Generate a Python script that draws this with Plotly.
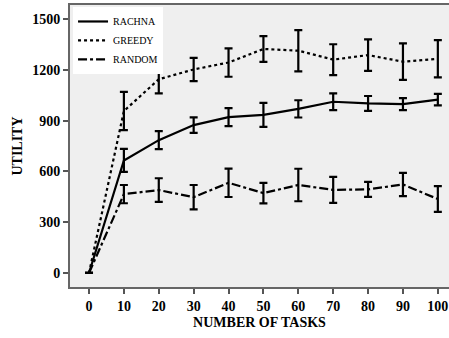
import plotly.graph_objects as go

tasks = [0, 10, 20, 30, 40, 50, 60, 70, 80, 90, 100]
utility_ticks = [0, 300, 600, 900, 1200, 1500]

rachna = [0, 665, 785, 874, 921, 935, 970, 1012, 1002, 998, 1025]
rachna_err = [0, 68, 53, 46, 53, 71, 51, 49, 44, 35, 34]

greedy = [0, 957, 1145, 1203, 1244, 1324, 1314, 1261, 1288, 1249, 1266]
greedy_err = [0, 113, 84, 69, 84, 76, 122, 91, 93, 108, 110]

random_ = [0, 466, 490, 448, 533, 472, 520, 491, 494, 523, 437]
random_err = [0, 54, 70, 72, 84, 61, 96, 77, 44, 69, 76]

series = [
    ("RACHNA", rachna, rachna_err, "solid"),
    ("GREEDY", greedy, greedy_err, "dot"),
    ("RANDOM", random_, random_err, "dashdot"),
]

fig = go.Figure()
for name, ys, errs, dash in series:
    fig.add_trace(go.Scatter(
        x=tasks, y=ys, name=name, mode="lines",
        line=dict(color="black", width=2.2, dash=dash),
        error_y=dict(type="data", array=errs, visible=True,
                     color="black", thickness=2.2, width=4),
        cliponaxis=False,
    ))

serif = "Liberation Serif, Times New Roman, Times, serif"
fig.update_layout(
    width=449, height=338,
    margin=dict(l=70, r=0, t=5, b=51),
    paper_bgcolor="white",
    plot_bgcolor="#efefef",
    font=dict(family=serif, color="black"),
    showlegend=True,
    legend=dict(
        x=0.008, y=0.993, xanchor="left", yanchor="top",
        bgcolor="white", borderwidth=0,
        font=dict(family=serif, size=10, color="black"),
        tracegroupgap=0,
    ),
    xaxis=dict(
        range=[-5.45, 103.2], automargin=False,
        tickvals=tasks, ticktext=[f"<b>{t}</b>" for t in tasks],
        ticks="outside", ticklen=5, tickwidth=1.5, tickcolor="#555",
        showline=True, linecolor="#666", linewidth=2, mirror=True,
        showgrid=False, zeroline=False,
        tickfont=dict(family=serif, size=14, color="black"),
        title=dict(text="<b>NUMBER OF TASKS</b>", font=dict(family=serif, size=14), standoff=4),
    ),
    yaxis=dict(
        range=[-83, 1584], automargin=False,
        tickvals=utility_ticks, ticktext=[f"<b>{t}</b>" for t in utility_ticks],
        ticks="outside", ticklen=5, tickwidth=1.5, tickcolor="#555",
        showline=True, linecolor="#666", linewidth=2,
        showgrid=False, zeroline=False,
        tickfont=dict(family=serif, size=14, color="black"),
        title=dict(text="<b>UTILITY</b>", font=dict(family=serif, size=14), standoff=6),
    ),
)

fig.write_html("out.html",
               config={"displayModeBar": False},
               post_script="document.body.style.margin='0';document.body.style.padding='0';")
